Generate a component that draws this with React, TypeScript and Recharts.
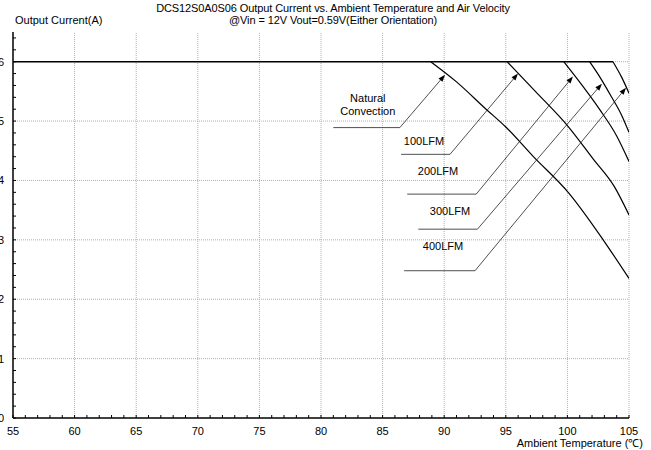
import { LineChart, Line, XAxis, YAxis, ReferenceLine, ReferenceDot } from 'recharts'

// temperatures (°C) and output current (A)
const ratedT = [55, 103.7]
const ratedI = [6, 6]
const ncT = [88.9, 91, 93.4, 95, 97.2, 100.1, 102.9, 105]
const ncI = [6, 5.66, 5.2, 4.9, 4.41, 3.79, 3.0, 2.35]
const lfm100T = [95.1, 97.4, 100.1, 102.1, 103.8, 105]
const lfm100I = [6, 5.5, 4.9, 4.36, 3.9, 3.42]
const lfm200T = [99.7, 101.2, 102.6, 104, 105]
const lfm200I = [6, 5.6, 5.2, 4.75, 4.32]
const lfm300T = [101.8, 102.7, 103.6, 104.4, 105]
const lfm300I = [6, 5.72, 5.4, 5.1, 4.81]
const lfm400T = [103.7, 104.4, 105]
const lfm400I = [6, 5.74, 5.47]

// axis ticks
const xMajor = [55, 60, 65, 70, 75, 80, 85, 90, 95, 100, 105]
const yMajor = [0, 1, 2, 3, 4, 5, 6]
const xMinor: number[] = []
for (let t = 55; t <= 105; t++) xMinor.push(t)
const yMinor: number[] = []
for (let k = 0; k <= 32; k++) yMinor.push(Math.round(k * 2) / 10)

// callouts: leader start, leader end / arrow start, arrow tip, text anchor
const calloutNames = ['Natural|Convection', '100LFM', '200LFM', '300LFM', '400LFM']
const leaderFromT = [81.0, 86.5, 87.0, 87.9, 86.75]
const leaderToT = [86.4, 90.47, 92.6, 92.7, 92.5]
const leaderI = [4.89, 4.44, 3.77, 3.18, 2.48]
const tipT = [90.07, 95.99, 100.45, 102.8, 104.76]
const tipI = [5.78, 5.8, 5.75, 5.63, 5.56]
const textT = [83.8, 88.36, 89.5, 90.47, 89.9]
const textI = [5.28, 4.66, 4.16, 3.49, 2.9]

const toPts = (t: number[], i: number[]) => t.map((v, k) => ({ t: v, i: i[k] }))

const curves = [
    { name: 'rated', data: toPts(ratedT, ratedI), w: 1.5 },
    { name: 'nc', data: toPts(ncT, ncI), w: 1.2 },
    { name: '100', data: toPts(lfm100T, lfm100I), w: 1.2 },
    { name: '200', data: toPts(lfm200T, lfm200I), w: 1.2 },
    { name: '300', data: toPts(lfm300T, lfm300I), w: 1.2 },
    { name: '400', data: toPts(lfm400T, lfm400I), w: 1.2 },
]

const font = '"Liberation Sans", Arial, sans-serif'
const isInt = (v: number) => Math.abs(v - Math.round(v)) < 1e-6

const XTick = ({ x, y, payload }: any) => {
    const major = payload.value % 5 === 0
    return (
        <g>
            <line x1={x} x2={x} y1={y} y2={y - 3} stroke="#000" strokeWidth={1} />
            {major && (
                <text x={x} y={y + 17} textAnchor="middle" fontSize={11} fontFamily={font} fill="#000">
                    {payload.value}
                </text>
            )}
        </g>
    )
}

const YTick = ({ x, y, payload }: any) => {
    const major = isInt(payload.value)
    return (
        <g>
            <line x1={x} x2={x + 3} y1={y} y2={y} stroke="#000" strokeWidth={1} />
            {major && (
                <text x={x - 9} y={y + 4} textAnchor="end" fontSize={11} fontFamily={font} fill="#000">
                    {Math.round(payload.value)}
                </text>
            )}
        </g>
    )
}

const arrowShape = (p: any) => {
    const { x1, y1, x2, y2 } = p
    const a = Math.atan2(y2 - y1, x2 - x1)
    const len = 7
    const half = 2.6
    const bx = x2 - len * Math.cos(a)
    const by = y2 - len * Math.sin(a)
    const nx = -Math.sin(a) * half
    const ny = Math.cos(a) * half
    return (
        <g>
            <line x1={x1} y1={y1} x2={bx} y2={by} stroke="#222" strokeWidth={0.8} />
            <polygon points={`${x2},${y2} ${bx + nx},${by + ny} ${bx - nx},${by - ny}`} fill="#000" />
        </g>
    )
}

const plainShape = (p: any) => (
    <line x1={p.x1} y1={p.y1} x2={p.x2} y2={p.y2} stroke="#222" strokeWidth={0.8} />
)

const textShape = (label: string) => (p: any) => {
    const parts = label.split('|')
    return (
        <text x={p.cx} y={p.cy + 4 - (parts.length - 1) * 6.5} textAnchor="middle" fontSize={11} fontFamily={font} fill="#000">
            {parts.map((s, k) => (
                <tspan key={k} x={p.cx} dy={k === 0 ? 0 : 13}>{s}</tspan>
            ))}
        </text>
    )
}

export default function App() {
    return (
        <div style={{ position: 'absolute', left: 0, top: 0, width: 651, height: 450, background: '#fff', overflow: 'hidden', fontFamily: font }}>
            <div style={{ position: 'absolute', left: 0, width: 666, top: 2, textAlign: 'center', fontSize: 11, lineHeight: '12px', color: '#000', letterSpacing: -0.1 }}>
                DCS12S0A0S06 Output Current vs. Ambient Temperature and Air Velocity
                <br />
                @Vin = 12V Vout=0.59V(Either Orientation)
            </div>
            <div style={{ position: 'absolute', left: 15, top: 14, fontSize: 11, lineHeight: '12px', color: '#000' }}>
                Output Current(A)
            </div>
            <div style={{ position: 'absolute', right: 8, top: 437, fontSize: 11, lineHeight: '12px', color: '#000' }}>
                Ambient Temperature (℃)
            </div>
            <LineChart width={651} height={450} margin={{ top: 32, right: 22, left: 12, bottom: 0 }}>
                <XAxis
                    type="number"
                    dataKey="t"
                    domain={[55, 105]}
                    ticks={xMinor}
                    interval={0}
                    tickSize={0}
                    tickMargin={0}
                    height={32}
                    tickLine={false}
                    axisLine={{ stroke: '#000', strokeWidth: 1.5 }}
                    tick={<XTick />}
                    allowDataOverflow
                />
                <YAxis
                    type="number"
                    dataKey="i"
                    domain={[0, 6.5]}
                    ticks={yMinor}
                    interval={0}
                    tickSize={0}
                    tickMargin={0}
                    width={1}
                    tickLine={false}
                    axisLine={{ stroke: '#000', strokeWidth: 1.5 }}
                    tick={<YTick />}
                    allowDataOverflow
                />
                {xMajor.filter(v => v !== 55).map(v => (
                    <ReferenceLine key={'gx' + v} x={v} stroke="#b0b0b0" strokeDasharray="1 1" />
                ))}
                {yMajor.filter(v => v !== 0).map(v => (
                    <ReferenceLine key={'gy' + v} y={v} stroke="#b0b0b0" strokeDasharray="1 1" />
                ))}
                {curves.map(c => (
                    <Line
                        key={c.name}
                        data={c.data}
                        dataKey="i"
                        type="monotone"
                        stroke="#000"
                        strokeWidth={c.w}
                        dot={false}
                        activeDot={false}
                        isAnimationActive={false}
                    />
                ))}
                {calloutNames.map((n, k) => (
                    <ReferenceLine
                        key={'ld' + k}
                        segment={[{ x: leaderFromT[k], y: leaderI[k] }, { x: leaderToT[k], y: leaderI[k] }]}
                        shape={plainShape}
                        ifOverflow="visible"
                    />
                ))}
                {calloutNames.map((n, k) => (
                    <ReferenceLine
                        key={'ar' + k}
                        segment={[{ x: leaderToT[k], y: leaderI[k] }, { x: tipT[k], y: tipI[k] }]}
                        shape={arrowShape}
                        ifOverflow="visible"
                    />
                ))}
                {calloutNames.map((n, k) => (
                    <ReferenceDot key={'tx' + k} x={textT[k]} y={textI[k]} r={0} shape={textShape(n)} ifOverflow="visible" />
                ))}
            </LineChart>
        </div>
    )
}
